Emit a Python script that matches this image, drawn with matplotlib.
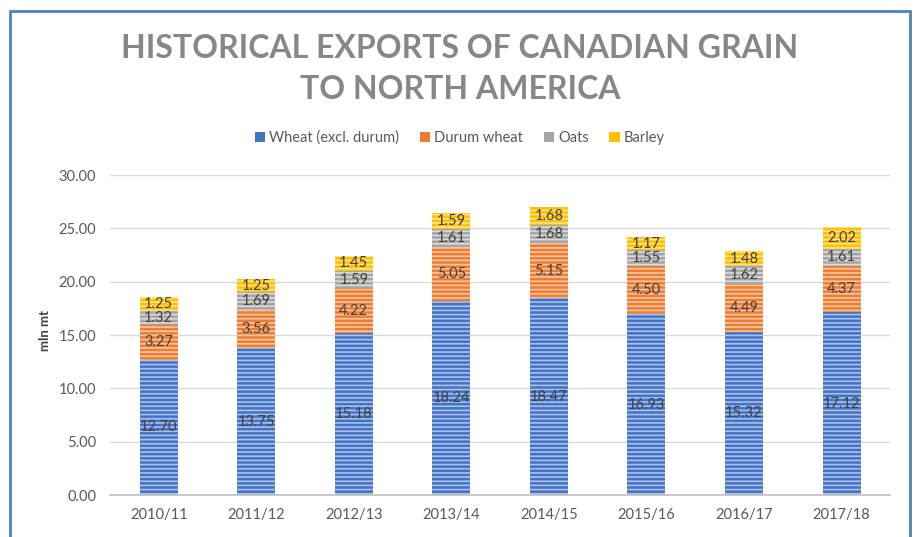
#!/usr/bin/env python3
"""Historical exports of Canadian grain to North America (stacked bars)."""
import matplotlib
matplotlib.use("Agg")
import matplotlib.pyplot as plt
from matplotlib.patches import Rectangle

years = ["2010/11", "2011/12", "2012/13", "2013/14", "2014/15", "2015/16", "2016/17", "2017/18"]
wheat = [12.70, 13.75, 15.18, 18.24, 18.47, 16.93, 15.32, 17.12]
durum = [3.27, 3.56, 4.22, 5.05, 5.15, 4.50, 4.49, 4.37]
oats = [1.32, 1.69, 1.59, 1.61, 1.68, 1.55, 1.62, 1.61]
barley = [1.25, 1.25, 1.45, 1.59, 1.68, 1.17, 1.48, 2.02]

series_names = ["Wheat (excl. durum)", "Durum wheat", "Oats", "Barley"]
colors = ["#4472C4", "#ED7D31", "#A5A5A5", "#FFC000"]
stripes = ["#A9C1EC", "#F8C5A5", "#DADADA", "#FFE38A"]

plt.rcParams["font.family"] = ["Lato", "DejaVu Sans"]
plt.rcParams["hatch.linewidth"] = 1.2

fig = plt.figure(figsize=(9.16, 5.37), dpi=100)
ax = fig.add_axes([0.120, 0.078, 0.852, 0.596])

x = list(range(len(years)))
bottom = [0.0] * len(years)
for vals, name, col, st in zip([wheat, durum, oats, barley], series_names, colors, stripes):
    ax.bar(x, vals, 0.39, bottom=bottom, color=col, edgecolor=st,
           hatch="----", linewidth=0, label=name, zorder=2)
    for xi, v, b in zip(x, vals, bottom):
        ax.text(xi, b + v / 2, f"{v:.2f}", ha="center", va="center",
                fontsize=10.5, color="#404040", zorder=3)
    bottom = [b + v for b, v in zip(bottom, vals)]

ax.set_xlim(-0.5, len(years) - 0.5)
ax.set_ylim(0, 30)
ax.set_yticks([0, 5, 10, 15, 20, 25, 30])
ax.set_yticklabels([f"{t:.2f}" for t in [0, 5, 10, 15, 20, 25, 30]])
ax.set_xticks(x, years)
ax.tick_params(axis="both", length=0, labelsize=10.5, colors="#595959")
ax.tick_params(axis="y", pad=10)
ax.tick_params(axis="x", pad=9)
ax.yaxis.grid(True, color="#D9D9D9", linewidth=1, zorder=0)
ax.set_axisbelow(True)
for s in ["top", "right", "left"]:
    ax.spines[s].set_visible(False)
ax.spines["bottom"].set_color("#BFBFBF")
ax.spines["bottom"].set_linewidth(1.2)

fig.text(0.049, 0.385, "mln mt", rotation=90, ha="center", va="center",
         fontsize=9.5, fontweight="bold", color="#404040")

for txt, yy in [("HISTORICAL EXPORTS OF CANADIAN GRAIN", 0.910),
                ("TO NORTH AMERICA", 0.834)]:
    fig.text(0.502, yy, txt, ha="center", va="center", fontsize=23,
             fontweight="bold", color="#878787")

handles, labels = ax.get_legend_handles_labels()
leg = fig.legend(handles, labels, loc="center", bbox_to_anchor=(0.502, 0.743), ncol=4,
                 frameon=False, fontsize=10.5, handlelength=0.7, handleheight=0.7,
                 handletextpad=0.3, columnspacing=1.4)
for t in leg.get_texts():
    t.set_color("#595959")
for h in leg.legend_handles:
    h.set_hatch(None)

fig.patches.append(Rectangle((0.011, -0.02), 0.982, 1.0, transform=fig.transFigure,
                             fill=False, edgecolor="#4F81BD", linewidth=2))

fig.savefig("out.png", dpi=100)
